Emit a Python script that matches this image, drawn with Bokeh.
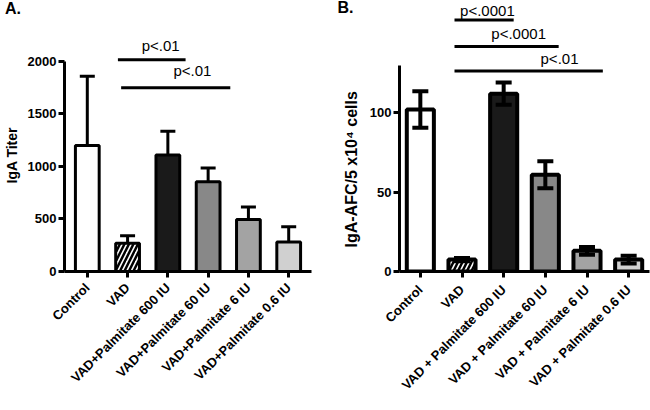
import math
from bokeh.plotting import figure
from bokeh.models import (FactorRange, Range1d, FixedTicker, ColumnDataSource,
                          Whisker, TeeHead, Label, Title)
from bokeh.layouts import row
from bokeh.embed import file_html
from bokeh.resources import INLINE
from bokeh.core.properties import value

# ---------------- data ----------------
cats_a = ["Control", "VAD", "VAD+Palmitate 600 IU", "VAD+Palmitate 60 IU",
          "VAD+Palmitate 6 IU", "VAD+Palmitate 0.6 IU"]
titer_mean = [1200, 270, 1110, 855, 495, 280]
titer_sem = [660, 70, 225, 130, 120, 145]
yticks_a = [0, 500, 1000, 1500, 2000]

cats_b = ["Control", "VAD", "VAD + Palmitate 600 IU", "VAD + Palmitate 60 IU",
          "VAD + Palmitate 6 IU", "VAD + Palmitate 0.6 IU"]
afc_mean = [102, 7.5, 112, 61, 13, 7.5]
afc_sem = [11.5, 1, 7, 8.5, 2.5, 2.5]
yticks_b = [0, 50, 100]

bar_colors = ["#ffffff", "#ffffff", "#1a1a1a", "#888888", "#a3a3a3", "#d0d0d0"]
bar_hatch = ["blank", "/", "blank", "blank", "blank", "blank"]

# significance annotations (category-index units; text y = text middle)
sig_a_text = ["p<.01", "p<.01"]
sig_a_x0 = [0.76, 0.84]
sig_a_x1 = [2.44, 3.55]
sig_a_y = [2016, 1750]
sig_a_tx = [1.82, 2.61]
sig_a_ty = [2152, 1915]

sig_b_text = ["p<.0001", "p<.0001", "p<.01"]
sig_b_x0 = [0.82, 0.82, 0.82]
sig_b_x1 = [2.24, 3.32, 4.38]
sig_b_y = [158.4, 141.8, 126.3]
sig_b_tx = [1.61, 2.36, 3.34]
sig_b_ty = [164.5, 150.0, 134.0]

FONT = "Liberation Sans"


def style(p, yticks, ybounds, xlabel_standoff):
    p.xgrid.grid_line_color = None
    p.ygrid.grid_line_color = None
    p.outline_line_color = None
    p.background_fill_color = "white"
    p.border_fill_color = "white"
    for ax in (p.xaxis[0], p.yaxis[0]):
        ax.axis_line_width = 3
        ax.axis_line_color = "black"
        ax.major_tick_line_width = 3
        ax.major_tick_line_color = "black"
        ax.major_tick_in = 0
        ax.major_tick_out = 6
        ax.minor_tick_line_color = None
        ax.major_label_text_font = FONT
        ax.major_label_text_font_style = "bold"
        ax.major_label_text_font_size = "13px"
        ax.major_label_text_color = "black"
    ya = p.yaxis[0]
    ya.ticker = FixedTicker(ticks=yticks)
    ya.bounds = ybounds
    ya.major_label_standoff = 2
    p.xaxis[0].major_label_orientation = math.pi / 4
    p.xaxis[0].major_label_standoff = xlabel_standoff


def panel(cats, means, sems, two_sided, yticks, ybounds, yend, bar_w, lw,
          cap, sig, dims, ylabel, ylabel_size, ylabel_offset, ylabel_standoff,
          xlabel_standoff, tag, tag_pos, tag_side, pad):
    width, height, bl, br, bt, bb = dims
    p = figure(x_range=FactorRange(factors=cats, range_padding=pad,
                                   range_padding_units="absolute"),
               y_range=Range1d(0, yend), width=width, height=height,
               min_border_left=bl, min_border_right=br, min_border_top=bt,
               min_border_bottom=bb, output_backend="svg",
               toolbar_location=None, title=None)
    upper = [m + s for m, s in zip(means, sems)]
    lower = [m - s for m, s in zip(means, sems)] if two_sided else list(means)
    src = ColumnDataSource(dict(cat=cats, top=means, upper=upper, lower=lower,
                                color=bar_colors, hatch=bar_hatch))
    p.vbar(x="cat", top="top", bottom=0, width=bar_w, source=src,
           fill_color="color", line_color="black", line_width=lw,
           hatch_pattern="hatch", hatch_color="black", hatch_scale=9,
           hatch_weight=2.5)
    wh = Whisker(base="cat", upper="upper", lower="lower", source=src,
                 dimension="height", line_width=lw, line_color="black",
                 upper_head=TeeHead(size=cap, line_width=lw, line_color="black"),
                 lower_head=(TeeHead(size=cap, line_width=lw, line_color="black")
                             if two_sided else None),
                 level="annotation")
    p.add_layout(wh)
    st, sx0, sx1, sy, stx, sty = sig
    ssrc = ColumnDataSource(dict(x0=[v + 0.5 for v in sx0],
                                 x1=[v + 0.5 for v in sx1], y=sy,
                                 tx=[v + 0.5 for v in stx], ty=sty, t=st))
    p.segment(x0="x0", y0="y", x1="x1", y1="y", source=ssrc,
              line_width=3, line_color="black")
    p.text(x="tx", y="ty", text="t", source=ssrc, text_align="center",
           text_baseline="middle", text_font=value(FONT),
           text_font_size=value("15px"), text_color="black")
    style(p, yticks, ybounds, xlabel_standoff)
    # y axis title (vertical, in the left side panel)
    p.add_layout(Title(text=ylabel, align="left", vertical_align="top",
                       offset=ylabel_offset, standoff=ylabel_standoff,
                       text_font=FONT, text_font_style="bold",
                       text_font_size=ylabel_size, text_color="black"), "left")
    tx, ty = tag_pos
    p.add_layout(Label(x=tx, y=ty, x_units="data", y_units="data",
                       text=tag, text_align="left", text_baseline="top",
                       text_font=FONT, text_font_style="bold",
                       text_font_size="16px", text_color="black"), tag_side)
    return p


pa = panel(cats_a, titer_mean, titer_sem, False, yticks_a, (0, 2000), 2571,
           0.59, 3, 15,
           (sig_a_text, sig_a_x0, sig_a_x1, sig_a_y, sig_a_tx, sig_a_ty),
           (320, 410, 62, 9, 1, 139), "IgA Titer", "14px", 88, 6, 8,
           "A.", (-1.544, 2590), "below", 0.066)

pb = panel(cats_b, afc_mean, afc_sem, True, yticks_b, (0, 130), 170.1,
           0.65, 4, 16,
           (sig_b_text, sig_b_x0, sig_b_x1, sig_b_y, sig_b_tx, sig_b_ty),
           (330, 410, 79, 1, 1, 139), "IgA-AFC/5 x10\u2074 cells", "16px",
           24, 10, 10, "B.", (-1.488, 171.4), "left", 0.0)

layout = row(pa, pb)
open("out.html", "w").write(file_html(layout, INLINE))
